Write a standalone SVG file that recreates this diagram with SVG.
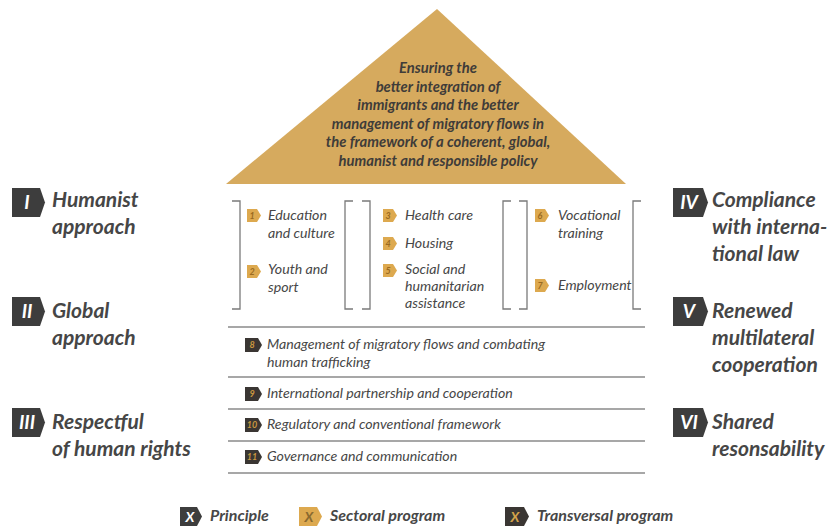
<svg xmlns="http://www.w3.org/2000/svg" width="834" height="529" viewBox="0 0 834 529">
  <style>
    .t { font-family: Lato, "Open Sans", "Liberation Sans", sans-serif; font-style: italic; }
    .roof { fill: #D6AA5E; }
    .rooftxt { font-weight: bold; font-size: 14.8px; fill: #3f3c39; text-anchor: middle; }
    .side { font-weight: bold; font-size: 21px; fill: #464646; }
    .num { font-weight: bold; font-size: 19px; fill: #ffffff; text-anchor: middle; }
    .pbadge { fill: #3d3d3d; }
    .sbadge { fill: #DDA94F; }
    .snum { font-weight: bold; font-size: 9px; fill: #9a6a20; text-anchor: middle; }
    .tbadge { fill: #3a3633; }
    .tnum { font-weight: bold; font-size: 9px; fill: #c8963f; text-anchor: middle; }
    .item { font-size: 14.2px; fill: #474747; }
    .bracket { fill: none; stroke: #7a7a7a; stroke-width: 1.3; }
    .rule { stroke: #8a8a8a; stroke-width: 1.6; }
    .legend { font-weight: bold; font-size: 16px; fill: #474747; }
  </style>

  <!-- roof -->
  <g id="roof">
    <polygon class="roof" points="226,184 437,9 626,184"/>
    <text class="t rooftxt" x="438" y="73">Ensuring the</text>
    <text class="t rooftxt" x="438" y="92">better integration of</text>
    <text class="t rooftxt" x="438" y="110">immigrants and the better</text>
    <text class="t rooftxt" x="438" y="129">management of migratory flows in</text>
    <text class="t rooftxt" x="438" y="147">the framework of a coherent, global,</text>
    <text class="t rooftxt" x="438" y="166">humanist and responsible policy</text>
  </g>

  <!-- principles, left -->
  <g id="principle-1">
    <path class="pbadge" d="M12,188 h28 l5,14.5 l-5,14.5 h-28 z"/>
    <text class="t num" x="27" y="209">I</text>
    <text class="t side" x="52" y="207">Humanist</text>
    <text class="t side" x="52" y="234">approach</text>
  </g>
  <g id="principle-2">
    <path class="pbadge" d="M12,297 h28 l5,14.5 l-5,14.5 h-28 z"/>
    <text class="t num" x="27" y="318">II</text>
    <text class="t side" x="52" y="318">Global</text>
    <text class="t side" x="52" y="345">approach</text>
  </g>
  <g id="principle-3">
    <path class="pbadge" d="M12,408 h28 l5,14.5 l-5,14.5 h-28 z"/>
    <text class="t num" x="27" y="429">III</text>
    <text class="t side" x="52" y="429">Respectful</text>
    <text class="t side" x="52" y="456">of human rights</text>
  </g>

  <!-- principles, right -->
  <g id="principle-4">
    <path class="pbadge" d="M673,188 h30 l5,14.5 l-5,14.5 h-30 z"/>
    <text class="t num" x="689" y="209">IV</text>
    <text class="t side" x="712" y="207">Compliance</text>
    <text class="t side" x="712" y="234">with interna-</text>
    <text class="t side" x="712" y="261">tional law</text>
  </g>
  <g id="principle-5">
    <path class="pbadge" d="M673,297 h30 l5,14.5 l-5,14.5 h-30 z"/>
    <text class="t num" x="689" y="318">V</text>
    <text class="t side" x="712" y="318">Renewed</text>
    <text class="t side" x="712" y="345">multilateral</text>
    <text class="t side" x="712" y="372">cooperation</text>
  </g>
  <g id="principle-6">
    <path class="pbadge" d="M673,408 h30 l5,14.5 l-5,14.5 h-30 z"/>
    <text class="t num" x="689" y="429">VI</text>
    <text class="t side" x="712" y="429">Shared</text>
    <text class="t side" x="712" y="456">resonsability</text>
  </g>

  <!-- pillar brackets and floor rules -->
  <g id="frame">
    <path class="bracket" d="M232,201 h8 v108 h-8"/>
    <path class="bracket" d="M353,201 h-8 v108 h8"/>
    <path class="bracket" d="M362,201 h8 v108 h-8"/>
    <path class="bracket" d="M511,201 h-8 v108 h8"/>
    <path class="bracket" d="M519,201 h8 v108 h-8"/>
    <path class="bracket" d="M641,201 h-8 v108 h8"/>
    <line class="rule" x1="228" y1="327" x2="645" y2="327"/>
    <line class="rule" x1="228" y1="377" x2="645" y2="377"/>
    <line class="rule" x1="228" y1="409" x2="645" y2="409"/>
    <line class="rule" x1="228" y1="441" x2="645" y2="441"/>
    <line class="rule" x1="228" y1="473" x2="645" y2="473"/>
  </g>

  <!-- sectoral programs -->
  <g id="sector-1">
    <path class="sbadge" d="M247,209 h10 l4,6.5 l-4,6.5 h-10 z"/>
    <text class="t snum" x="252" y="219">1</text>
    <text class="t item" x="268" y="220">Education</text>
    <text class="t item" x="268" y="238">and culture</text>
  </g>
  <g id="sector-2">
    <path class="sbadge" d="M247,265 h10 l4,6.5 l-4,6.5 h-10 z"/>
    <text class="t snum" x="252" y="275">2</text>
    <text class="t item" x="268" y="274">Youth and</text>
    <text class="t item" x="268" y="292">sport</text>
  </g>
  <g id="sector-3">
    <path class="sbadge" d="M383,209 h10 l4,6.5 l-4,6.5 h-10 z"/>
    <text class="t snum" x="388" y="219">3</text>
    <text class="t item" x="405" y="220">Health care</text>
  </g>
  <g id="sector-4">
    <path class="sbadge" d="M383,237 h10 l4,6.5 l-4,6.5 h-10 z"/>
    <text class="t snum" x="388" y="247">4</text>
    <text class="t item" x="405" y="248">Housing</text>
  </g>
  <g id="sector-5">
    <path class="sbadge" d="M383,264 h10 l4,6.5 l-4,6.5 h-10 z"/>
    <text class="t snum" x="388" y="274">5</text>
    <text class="t item" x="405" y="274">Social and</text>
    <text class="t item" x="405" y="291">humanitarian</text>
    <text class="t item" x="405" y="308">assistance</text>
  </g>
  <g id="sector-6">
    <path class="sbadge" d="M535,209 h10 l4,6.5 l-4,6.5 h-10 z"/>
    <text class="t snum" x="540" y="219">6</text>
    <text class="t item" x="558" y="220">Vocational</text>
    <text class="t item" x="558" y="238">training</text>
  </g>
  <g id="sector-7">
    <path class="sbadge" d="M535,279 h10 l4,6.5 l-4,6.5 h-10 z"/>
    <text class="t snum" x="540" y="289">7</text>
    <text class="t item" x="558" y="290">Employment</text>
  </g>

  <!-- transversal programs -->
  <g id="transversal-8">
    <path class="tbadge" d="M245,338 h13 l4,7 l-4,7 h-13 z"/>
    <text class="t tnum" x="252" y="348">8</text>
    <text class="t item" x="267" y="349">Management of migratory flows and combating</text>
    <text class="t item" x="267" y="367">human trafficking</text>
  </g>
  <g id="transversal-9">
    <path class="tbadge" d="M245,387 h13 l4,7 l-4,7 h-13 z"/>
    <text class="t tnum" x="252" y="397">9</text>
    <text class="t item" x="267" y="398">International partnership and cooperation</text>
  </g>
  <g id="transversal-10">
    <path class="tbadge" d="M245,418 h13 l4,7 l-4,7 h-13 z"/>
    <text class="t tnum" x="252" y="428">10</text>
    <text class="t item" x="267" y="429">Regulatory and conventional framework</text>
  </g>
  <g id="transversal-11">
    <path class="tbadge" d="M245,450 h13 l4,7 l-4,7 h-13 z"/>
    <text class="t tnum" x="252" y="460">11</text>
    <text class="t item" x="267" y="461">Governance and communication</text>
  </g>

  <!-- legend -->
  <g id="legend">
    <path class="pbadge" d="M180,507 h17 l5,9.5 l-5,9.5 h-17 z"/>
    <text class="t" x="190" y="522" font-weight="bold" font-size="14" fill="#ffffff" text-anchor="middle">X</text>
    <text class="t legend" x="210" y="521">Principle</text>
    <path class="sbadge" d="M299,507 h18 l5,9.5 l-5,9.5 h-18 z"/>
    <text class="t" x="309" y="522" font-weight="bold" font-size="14" fill="#8a6a30" text-anchor="middle">X</text>
    <text class="t legend" x="330" y="521">Sectoral program</text>
    <path class="tbadge" d="M505,507 h19 l5,9.5 l-5,9.5 h-19 z"/>
    <text class="t" x="515" y="522" font-weight="bold" font-size="14" fill="#d3a24a" text-anchor="middle">X</text>
    <text class="t legend" x="537" y="521">Transversal program</text>
  </g>
</svg>
